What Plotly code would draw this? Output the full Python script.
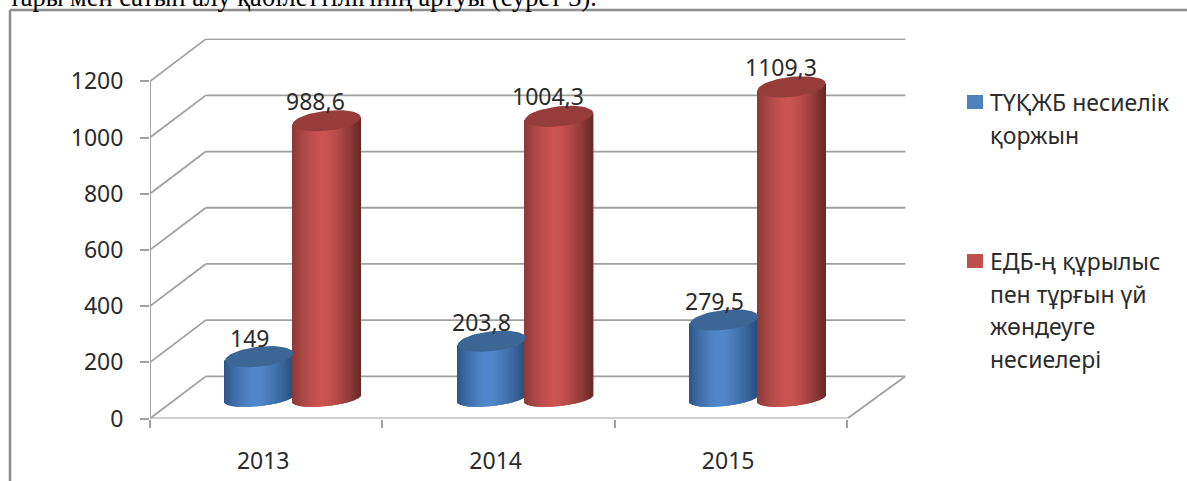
'''
    3D-looking cylinder chart of the two credit series, 2013-2015.
'''
import math
import plotly.graph_objects as go

years = ['2013', '2014', '2015']
portfolio_vals = [149, 203.8, 279.5]
loan_vals = [988.6, 1004.3, 1109.3]
portfolio_labels = ['149', '203,8', '279,5']
loan_labels = ['988,6', '1004,3', '1109,3']
y_ticks = [0, 200, 400, 600, 800, 1000, 1200]
legend_lines = [
    ['ТҮҚЖБ несиелік', 'қоржын'],
    ['ЕДБ-ң құрылыс', 'пен тұрғын үй', 'жөндеуге', 'несиелері'],
]
page_text = 'тары мен сатып алу қабілеттілігінің артуы (сурет 3).'

W, H = 1187, 481
FONT = 'Noto Sans'
FONT_SIZE = 23
TEXT = '#2b2b2b'
GRID = '#a0a0a0'

# pixel scale of the front plane
PX_X = 232.3
PX_Y = 0.281
DEPTH_X = 0.24
DEPTH_Y = 150
X_MAX = 3.25
Y_MAX = 380 / PX_Y

# cylinder geometry in axis units
RADIUS = 34 / PX_X
ELLIPSE = 7.5 / PX_Y
CAP = 10 / PX_Y
TILT = 3.5 / PX_Y
BASE = 71
STRIPS = 68


def shade(rgb_left, rgb_mid, rgb_right, t):
    # horizontal cylinder shading, brightest slightly left of the middle
    peak = -0.1
    if t < peak:
        k = abs((t - peak) / (-1 - peak)) ** 1.5
        end = rgb_left
    else:
        k = abs((t - peak) / (1 - peak)) ** 1.5
        end = rgb_right
    return 'rgb(%d,%d,%d)' % tuple(m + (e - m) * k for m, e in zip(rgb_mid, end))


def cylinder_bars(values, offset, left, mid, right):
    xs, bases, heights, colors = [], [], [], []
    for i, value in enumerate(values):
        for s in range(STRIPS):
            t = -1 + (2 * s + 1) / STRIPS
            front = ELLIPSE * math.sqrt(1 - t * t)
            xs.append(i + offset + t * RADIUS)
            bases.append(BASE + TILT * t - front)
            heights.append(value + front)
            colors.append(shade(left, mid, right, t))
    return go.Bar(
        x=xs, y=heights, base=bases, width=2 * RADIUS / STRIPS * 1.5,
        marker=dict(color=colors, line_width=0),
        showlegend=False, hoverinfo='skip',
    )


def cylinder_caps(values, offset, color):
    xs, ys = [], []
    for i, value in enumerate(values):
        for d in range(0, 361, 6):
            a = math.radians(d)
            xs.append(i + offset + RADIUS * math.cos(a))
            ys.append(value + BASE + TILT * math.cos(a) + CAP * math.sin(a))
        xs.append(None)
        ys.append(None)
    return go.Scatter(
        x=xs, y=ys, mode='lines', fill='toself', fillcolor=color,
        line=dict(width=0, color=color), showlegend=False, hoverinfo='skip',
    )


def grid_shapes():
    shapes = []
    line = dict(color=GRID, width=1.8)
    for v in y_ticks:
        shapes.append(dict(type='line', xref='x', yref='y', layer='below', line=line,
                           x0=0, y0=v, x1=DEPTH_X, y1=v + DEPTH_Y))
        shapes.append(dict(type='line', xref='x', yref='y', layer='below', line=line,
                           x0=DEPTH_X, y0=v + DEPTH_Y, x1=X_MAX, y1=v + DEPTH_Y))
    # axis lines and the right edge of the floor
    shapes.append(dict(type='line', xref='x', yref='y', layer='below', line=line,
                       x0=0, y0=0, x1=0, y1=y_ticks[-1]))
    shapes.append(dict(type='line', xref='x', yref='y', layer='below', line=line,
                       x0=0, y0=0, x1=3, y1=0))
    shapes.append(dict(type='line', xref='x', yref='y', layer='below', line=line,
                       x0=3, y0=0, x1=X_MAX, y1=DEPTH_Y))
    return shapes


OFFSET_BLUE = 0.47
OFFSET_RED = 0.76

fig = go.Figure()
fig.add_trace(cylinder_bars(portfolio_vals, OFFSET_BLUE, (46, 86, 136), (82, 136, 203), (40, 78, 124)))
fig.add_trace(cylinder_bars(loan_vals, OFFSET_RED, (140, 58, 56), (204, 84, 81), (104, 42, 40)))
fig.add_trace(cylinder_caps(portfolio_vals, OFFSET_BLUE, '#3c6695'))
fig.add_trace(cylinder_caps(loan_vals, OFFSET_RED, '#963c3a'))

annotations = []
for i in range(len(years)):
    annotations.append(dict(x=i + OFFSET_BLUE, y=portfolio_vals[i] + BASE, text=portfolio_labels[i],
                            xref='x', yref='y', showarrow=False, xshift=-10, yshift=19,
                            font=dict(family=FONT, size=FONT_SIZE, color=TEXT)))
    annotations.append(dict(x=i + OFFSET_RED, y=loan_vals[i] + BASE, text=loan_labels[i],
                            xref='x', yref='y', showarrow=False, xshift=-11, yshift=20,
                            font=dict(family=FONT, size=FONT_SIZE, color=TEXT)))

# legend, one annotation per line because the line spacing is wider than plotly's
shapes = grid_shapes()
legend_tops = [102, 261]
legend_colors = ['#4f81bd', '#c0504d']
for lines, top, color in zip(legend_lines, legend_tops, legend_colors):
    shapes.append(dict(type='rect', xref='paper', yref='paper', line_width=0, fillcolor=color,
                       x0=967 / W, x1=983 / W, y0=1 - (top + 7) / H, y1=1 - (top - 7) / H))
    for n, text in enumerate(lines):
        annotations.append(dict(x=988 / W, y=1 - (top + n * 32.5) / H, text=text,
                                xref='paper', yref='paper', xanchor='left', yanchor='middle',
                                showarrow=False, font=dict(family=FONT, size=FONT_SIZE, color=TEXT)))

# frame of the pasted chart and the line of page text above it
frame = dict(color='#8c8c8c', width=2.5)
shapes.append(dict(type='line', xref='paper', yref='paper', line=frame,
                   x0=10 / W, y0=1 - 10 / H, x1=1, y1=1 - 10 / H))
shapes.append(dict(type='line', xref='paper', yref='paper', line=frame,
                   x0=10 / W, y0=1 - 10 / H, x1=10 / W, y1=0))
annotations.append(dict(x=7 / W, y=1, text=page_text, xref='paper', yref='paper',
                        xanchor='left', yanchor='bottom', showarrow=False, yshift=-14,
                        font=dict(family='Liberation Serif', size=26.4, color='#000000')))

fig.update_layout(
    width=W, height=H,
    margin=dict(l=0, r=0, t=0, b=0),
    barmode='overlay',
    plot_bgcolor='white', paper_bgcolor='white',
    showlegend=False,
    shapes=shapes,
    annotations=annotations,
    xaxis=dict(
        domain=[150 / W, 905.5 / W],
        range=[0, X_MAX],
        automargin=False,
        tickvals=[0.487, 1.487, 2.487],
        ticktext=years,
        ticks='',
        ticklabelstandoff=26,
        minor=dict(tickvals=[0, 1, 2, 3], ticks='outside', ticklen=8, tickwidth=1.8, tickcolor=GRID),
        showgrid=False, zeroline=False, showline=False,
        tickfont=dict(family=FONT, size=FONT_SIZE, color=TEXT),
    ),
    yaxis=dict(
        domain=[1 - 418.5 / H, 1 - 38.5 / H],
        range=[0, Y_MAX],
        automargin=False,
        tickvals=y_ticks,
        ticks='outside', ticklen=9, tickwidth=1.8, tickcolor=GRID,
        ticklabelstandoff=12,
        showgrid=False, zeroline=False, showline=False,
        tickfont=dict(family=FONT, size=FONT_SIZE, color=TEXT),
    ),
)

fig.write_html(
    "out.html",
    config={'displayModeBar': False},
    post_script="document.body.style.margin='0';document.body.style.overflow='hidden';",
)
